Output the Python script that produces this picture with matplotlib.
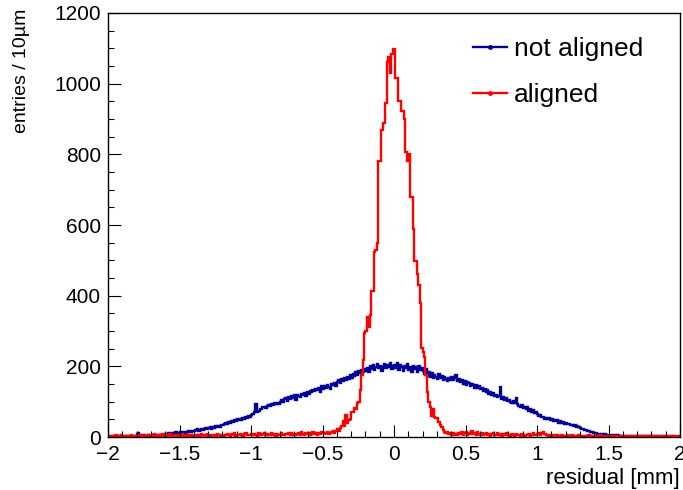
import matplotlib
matplotlib.use('Agg')
import matplotlib.pyplot as plt
from matplotlib.ticker import MultipleLocator
import numpy as np

plt.rcParams['font.family'] = ['Liberation Sans', 'DejaVu Sans']

# residual histogram, 10 um bins from -2 to 2 mm
x_min = -2.0
x_max = 2.0

not_aligned = [
    1, 0, 2, 1, 0, 3, 1, 2, 0, 1, 2, 4, 1, 3, 2, 3, 1, 2, 4, 3,
    9, 10, 4, 3, 5, 2, 4, 3, 6, 4, 3, 5, 4, 7, 5, 4, 6, 5, 7, 6,
    8, 7, 10, 9, 12, 8, 11, 13, 10, 12, 14, 11, 13, 15, 12, 14, 16, 13, 15, 17,
    16, 19, 22, 18, 21, 24, 20, 23, 26, 22, 25, 27, 24, 28, 26, 30, 27, 32, 29, 33,
    35, 38, 41, 37, 43, 40, 46, 42, 48, 45, 50, 47, 52, 49, 55, 51, 57, 54, 60, 58,
    62, 66, 70, 94, 72, 75, 80, 78, 84, 86, 82, 88, 91, 87, 93, 90, 95, 92, 97, 94,
    100, 104, 98, 107, 110, 103, 112, 108, 115, 111, 118, 106, 120, 116, 113, 122, 119, 125, 117, 127,
    123, 130, 126, 134, 129, 137, 132, 140, 128, 143, 136, 145, 139, 148, 142, 135, 150, 146, 153, 144,
    155, 160, 152, 163, 158, 168, 161, 170, 165, 175, 168, 178, 172, 183, 176, 186, 180, 190, 184, 192,
    188, 196, 184, 200, 193, 205, 190, 198, 206, 195, 202, 188, 199, 208, 194, 203, 197, 210, 192, 201,
    205, 196, 209, 191, 203, 198, 186, 200, 194, 207, 189, 199, 185, 202, 193, 197, 184, 200, 191, 195,
    186, 178, 192, 174, 183, 170, 180, 166, 176, 171, 163, 178, 168, 173, 160, 170, 165, 158, 168, 162,
    170, 160, 166, 175, 158, 164, 155, 162, 150, 158, 147, 155, 152, 143, 150, 146, 140, 148, 138, 145,
    135, 140, 130, 137, 126, 133, 122, 128, 118, 124, 115, 120, 112, 117, 142, 108, 114, 105, 110, 103,
    106, 100, 97, 103, 95, 110, 92, 88, 85, 90, 82, 86, 79, 84, 75, 80, 72, 76, 68, 70,
    65, 60, 63, 56, 58, 52, 55, 50, 53, 47, 51, 46, 48, 44, 47, 41, 44, 40, 42, 38,
    40, 36, 38, 33, 35, 30, 33, 28, 31, 27, 25, 22, 24, 19, 21, 17, 18, 15, 14, 12,
    11, 10, 8, 9, 7, 9, 6, 8, 7, 5, 7, 6, 4, 6, 5, 3, 5, 4, 3, 4,
    3, 2, 4, 3, 2, 3, 1, 3, 2, 4, 2, 1, 3, 2, 1, 2, 3, 1, 2, 1,
    2, 1, 0, 2, 1, 1, 3, 0, 1, 2, 0, 1, 1, 0, 2, 1, 0, 1, 0, 1,
]

aligned = [
    3, 1, 4, 2, 0, 5, 2, 1, 3, 6, 2, 4, 1, 3, 0, 2, 5, 1, 3, 2,
    4, 2, 6, 3, 1, 5, 2, 4, 7, 3, 2, 5, 8, 4, 2, 6, 3, 5, 9, 4,
    6, 3, 5, 8, 4, 2, 7, 5, 3, 6, 4, 8, 5, 3, 7, 2, 5, 4, 6, 3,
    5, 7, 3, 6, 4, 8, 5, 2, 6, 9, 4, 6, 3, 7, 5, 4, 8, 6, 3, 5,
    7, 4, 6, 9, 5, 3, 8, 6, 10, 4, 7, 5, 9, 6, 4, 8, 11, 5, 7, 6,
    8, 5, 9, 6, 4, 10, 7, 5, 8, 12, 6, 9, 5, 7, 11, 6, 8, 4, 9, 7,
    6, 10, 7, 5, 9, 8, 12, 6, 10, 7, 9, 5, 8, 11, 6, 14, 9, 7, 10, 8,
    11, 7, 9, 13, 8, 10, 6, 12, 9, 14, 10, 8, 12, 15, 9, 11, 13, 16, 12, 18,
    22, 18, 25, 30, 45, 30, 62, 40, 48, 52, 72, 70, 82, 80, 96, 98, 133, 175, 218, 294,
    300, 340, 312, 345, 414, 414, 524, 530, 548, 782, 782, 869, 890, 890, 946, 1060, 1075, 1030, 1085, 1097,
    1097, 1016, 1016, 952, 952, 923, 923, 900, 808, 782, 800, 679, 679, 589, 498, 498, 461, 430, 380, 252,
    240, 226, 175, 127, 100, 85, 60, 80, 57, 54, 54, 42, 35, 28, 20, 15, 11, 14, 8, 10,
    7, 12, 6, 9, 5, 11, 8, 14, 6, 10, 15, 7, 12, 9, 16, 8, 11, 6, 13, 9,
    7, 10, 5, 8, 12, 6, 9, 4, 8, 11, 5, 7, 10, 6, 9, 4, 8, 6, 10, 5,
    7, 4, 9, 6, 3, 8, 5, 7, 4, 9, 6, 3, 7, 5, 8, 4, 6, 10, 5, 7,
    9, 12, 6, 10, 13, 8, 5, 7, 4, 6, 3, 7, 5, 2, 6, 4, 3, 5, 2, 4,
    3, 5, 2, 4, 6, 3, 1, 4, 2, 5, 3, 2, 4, 1, 3, 2, 5, 3, 1, 2,
    4, 2, 3, 1, 5, 2, 3, 2, 4, 1, 3, 2, 0, 3, 1, 2, 4, 1, 2, 3,
    1, 3, 2, 0, 2, 4, 1, 2, 3, 1, 0, 2, 1, 3, 2, 1, 2, 0, 3, 1,
    2, 1, 3, 0, 2, 1, 1, 4, 2, 0, 1, 3, 1, 2, 0, 2, 1, 3, 1, 2,
]

series_labels = ["not aligned", "aligned"]
series_colors = ["#000099", "#ff0000"]

edges = np.linspace(x_min, x_max, len(aligned) + 1)

fig = plt.figure(figsize=(6.83, 4.90), dpi=100)
ax = fig.add_axes([108 / 683, 1 - 437 / 490, 572 / 683, 424 / 490])

for vals, lab, col in zip([not_aligned, aligned], series_labels, series_colors):
    ax.stairs(vals, edges, color=col, lw=1.7, baseline=None)
    # legend proxy with the small ROOT-style marker
    ax.plot([], [], color=col, lw=1.7, marker='o', markersize=2.5,
            markerfacecolor=col, markeredgecolor=col, label=lab)

ax.set_xlim(x_min, x_max)
ax.set_ylim(0, 1200)
ax.xaxis.set_major_locator(MultipleLocator(0.5))
ax.xaxis.set_minor_locator(MultipleLocator(0.1))
ax.yaxis.set_major_locator(MultipleLocator(200))
ax.yaxis.set_minor_locator(MultipleLocator(50))
ax.tick_params(which='both', direction='in', top=False, right=False, labelsize=15)
ax.tick_params(axis='x', pad=6)
ax.tick_params(axis='y', pad=5)
ax.tick_params(which='major', length=9, width=0.8)
ax.tick_params(which='minor', length=4.5, width=0.8)
ax.xaxis.set_major_formatter(plt.FuncFormatter(lambda v, p: ('%g' % v).replace('-', '\u2212')))
for s in ax.spines.values():
    s.set_linewidth(1.0)

fig.text(680 / 683, 1 - 478 / 490, "residual [mm]", ha='right', va='center', fontsize=16)
fig.text(22 / 683, 1 - 9 / 490, "entries / 10\u00b5m", ha='center', va='top',
         rotation=90, fontsize=14)

leg = ax.legend(loc='upper left', bbox_to_anchor=(0.638, 0.944), frameon=False,
                fontsize=19, handlelength=1.3, handletextpad=0.25, labelspacing=0.85,
                borderaxespad=0, borderpad=0)

fig.savefig("out.png", dpi=100)
